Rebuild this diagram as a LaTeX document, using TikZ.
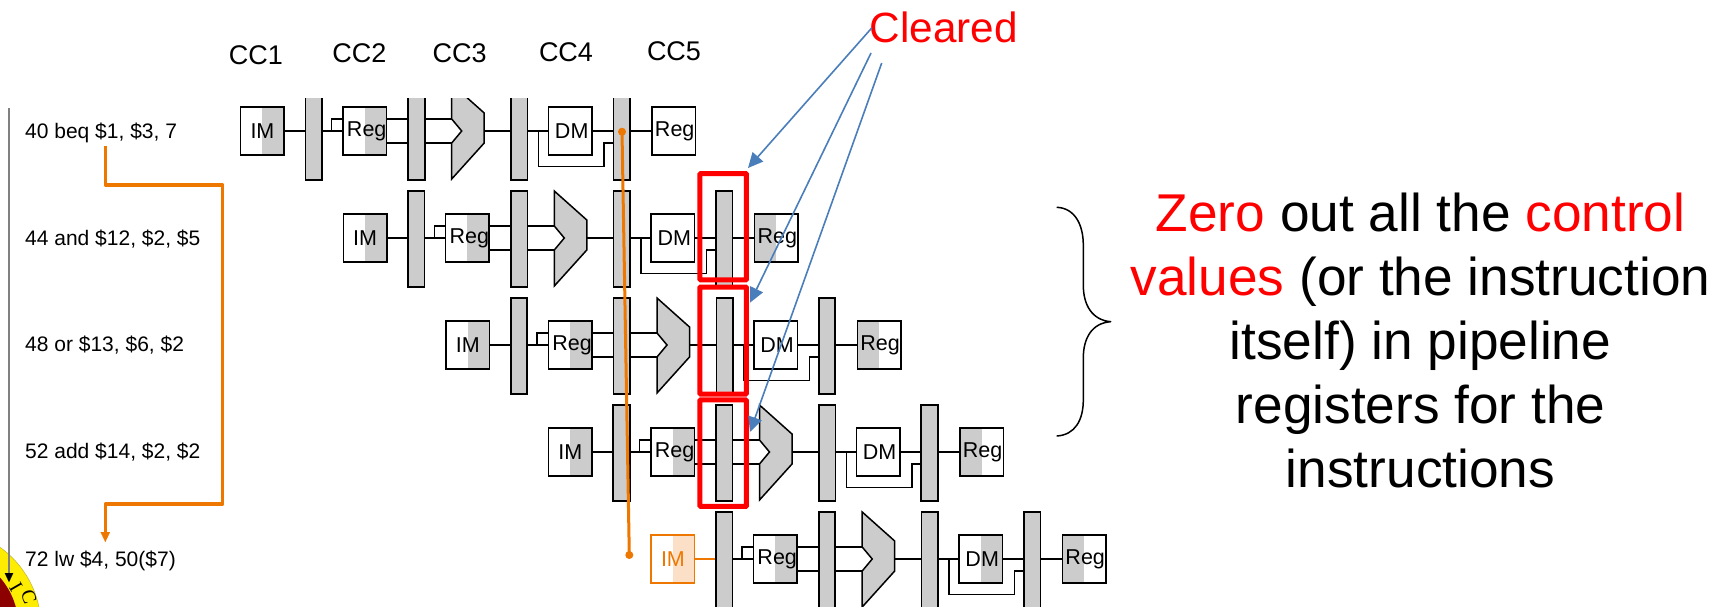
\documentclass[tikz,border=0pt]{standalone}
\usepackage{fontspec}
\setmainfont{Liberation Sans}
\newfontfamily\icfont{Liberation Serif}
\usetikzlibrary{arrows.meta,calc}
\definecolor{gshade}{HTML}{CCCCCC}
\definecolor{orng}{HTML}{EE7700}
\definecolor{orngl}{HTML}{FBDFC6}
\definecolor{arrowblue}{HTML}{4A7EBB}
\definecolor{cred}{HTML}{FF0000}
\tikzset{
  x=1pt,y=-1pt,
  wire/.style={black,line width=1.5pt},
  unitbox/.style={draw=black,line width=1.5pt,fill=white,minimum width=43.5pt,minimum height=48pt,inner sep=0pt,text=black,font=\fontsize{21.5}{24}\selectfont},
  halfright/.style={path picture={\fill[gshade] (path picture bounding box.north) rectangle (path picture bounding box.south east);}},
  halfleft/.style={path picture={\fill[gshade] (path picture bounding box.north west) rectangle (path picture bounding box.south);}},
  plainbox/.style={},
  imorange/.style={draw=orng,text=orng,path picture={\fill[orngl] (path picture bounding box.north) rectangle (path picture bounding box.south east);}},
  pipereg/.style={draw=black,line width=1.6pt,fill=gshade,minimum width=16.5pt,minimum height=96pt,inner sep=0pt},
  alushape/.style={draw=black,line width=1.5pt,fill=gshade,line join=miter},
  orangewire/.style={orng,line width=2.6pt},
  orangeroute/.style={orng,line width=3.2pt,line join=round},
  redbox/.style={draw=cred,line width=5pt,rounded corners=0.8pt,minimum width=46.5pt,inner sep=0pt},
  clearedarrow/.style={arrowblue,line width=1.6pt,-{Triangle[length=15pt,width=14pt]}},
  dotnode/.style={circle,fill=orng,inner sep=0pt,minimum size=8pt},
  instr/.style={anchor=base west,inner sep=0pt,font=\fontsize{21}{24}\selectfont},
  cclabel/.style={inner sep=0pt,font=\fontsize{27}{30}\selectfont},
}
% #1 prefix, #2 x0, #3 centre y, #4 IM style, #5 DM style, #6 last Reg style, #7 IM wire style
\newcommand\pipeRow[7]{
  \node[unitbox,halfright,#4] (#1im) at (#2+21.75,#3) {IM};
  \node[pipereg] (#1pa) at (#2+73,#3+1) {};
  \node[unitbox,halfright] (#1rd) at (#2+124,#3) {\hspace*{4pt}Reg};
  \node[pipereg] (#1pb) at (#2+175.8,#3+1) {};
  \coordinate (#1alu) at (#2+211,#3);
  \node[pipereg] (#1pc) at (#2+278.6,#3+1) {};
  \node[unitbox,#5] (#1dm) at (#2+329.5,#3) {\hspace*{3pt}DM};
  \node[pipereg] (#1pd) at (#2+381,#3+1) {};
  \node[unitbox,#6] (#1wb) at (#2+433,#3) {\hspace*{2pt}Reg};
  \draw[#7] (#1im.east) -- (#1im.east -| #1pa.west);
  \draw[wire] (#1rd.west -| #1pa.east) -- (#1rd.west);
  \draw[wire] ($(#1rd.west)+(-10.5,0)$) |- ($(#1rd.west)+(0,-12)$);
  \draw[wire] ($(#1rd.east)+(0,-12)$) -- ($(#1alu)+(0,-12)$);
  \draw[wire] ($(#1rd.east)+(0,12)$) -- ($(#1alu)+(0,12)$);
  \node[pipereg] at (#1pb) {};
  \draw[alushape] ([shift={(0,-47)}]#1alu) -- ([shift={(32.5,-18)}]#1alu) -- ([shift={(32.5,12)}]#1alu) -- ([shift={(0,48)}]#1alu) -- ([shift={(0,12)}]#1alu) -- ([shift={(10,0)}]#1alu) -- ([shift={(0,-12)}]#1alu) -- cycle;
  \draw[wire] ([shift={(32.5,0)}]#1alu) -- (#1alu -| #1pc.west);
  \draw[wire] (#1dm.west -| #1pc.east) -- (#1dm.west);
  \draw[wire] (#1dm.east) -- (#1dm.east -| #1pd.west);
  \draw[wire] (#1wb.west -| #1pd.east) -- (#1wb.west);
  \draw[wire] ($(#1dm.west)+(-9.2,0)$) -- ($(#1dm.west)+(-9.2,35.7)$) -- ($(#1dm.east)+(11.3,35.7)$) -- ($(#1dm.east)+(11.3,12)$) -- ($(#1dm.east)+(21.3,12)$);
  \node[pipereg] at (#1pd) {};
}
\begin{document}
\begin{tikzpicture}
\clip (0,0) rectangle (1724,606);
\fill[white] (0,0) rectangle (1724,606);

% badge in the corner
\coordinate (badge) at (-57,627);
\fill[yellow!95!orange,draw=yellow!70!black,line width=0.5pt] (badge) circle[radius=98];
\fill[red!55!black] (badge) circle[radius=75.5];
\node[inner sep=0pt,rotate=-60,font=\icfont\fontsize{20}{22}\selectfont] (badgeI) at (16,587) {I};
\node[inner sep=0pt,rotate=-72,font=\icfont\fontsize{20}{22}\selectfont] (badgeC) at (29,596.5) {C};

% time axis
\coordinate (axisA) at (9,108);
\coordinate (axisB) at (9,582);
\draw[gray,line width=1.3pt] (axisA) -- ($(axisB)+(0,-6)$);
\draw[-{Triangle[length=9pt,width=8.5pt]},black,line width=0.1pt] ($(axisB)+(0,-9)$) -- (axisB);

% clock cycle labels
\node[cclabel] (cc1) at (256,55) {CC1};
\node[cclabel] (cc2) at (359.5,53) {CC2};
\node[cclabel] (cc3) at (459.6,53) {CC3};
\node[cclabel] (cc4) at (566,52) {CC4};
\node[cclabel] (cc5) at (674,51) {CC5};

% instruction labels
\node[instr] (la) at (25,138) {40 beq \$1, \$3, 7};
\node[instr] (lb) at (25,245) {44 and \$12, \$2, \$5};
\node[instr] (lc) at (25,351.5) {48 or \$13, \$6, \$2};
\node[instr] (ld) at (25,458.5) {52 add \$14, \$2, \$2};
\node[instr] (le) at (25,566) {72 lw \$4, 50(\$7)};

% pipeline rows
\begin{scope}
  \clip (0,98) rectangle (1724,606);
  \pipeRow{a}{240.7}{131}{plainbox}{plainbox}{plainbox}{wire}
\end{scope}
\pipeRow{b}{343.3}{238}{plainbox}{plainbox}{halfleft}{wire}
\pipeRow{c}{446}{345}{plainbox}{plainbox}{halfleft}{wire}
\pipeRow{d}{548.5}{452}{plainbox}{plainbox}{halfleft}{wire}
\pipeRow{e}{651.2}{559}{imorange}{halfright}{halfleft}{orangewire}

% orange branch route
\coordinate (ra) at (105.3,146);
\coordinate (rb) at (105.3,185);
\coordinate (rc) at (222.7,185);
\coordinate (rd) at (222.7,504);
\coordinate (re) at (105.3,504);
\coordinate (rf) at (105.3,542);
\draw[orangeroute] (ra) -- (rb) -- (rc) -- (rd) -- (re) -- ($(rf)+(0,-8)$);
\draw[orng,line width=0.1pt,-{Triangle[length=10pt,width=9.5pt]}] ($(rf)+(0,-10)$) -- (rf);

% orange timeline
\node[dotnode] (dota) at (622,131.7) {};
\node[dotnode] (dotb) at (629.3,555) {};
\draw[orng,line width=3pt] (dota.center) -- (dotb.center);

% red boxes
\node[redbox,minimum height=106.3pt] (rba) at (723.2,226.8) {};
\node[redbox,minimum height=107pt] (rbb) at (723.2,340.5) {};
\node[redbox,minimum height=106.5pt] (rbc) at (723.2,453.2) {};

% Cleared
\node[inner sep=0pt,text=cred,font=\fontsize{42.3}{48}\selectfont,anchor=base] (cleared) at (944,42.3) {Cleared};
\coordinate (ca) at (871.7,28);
\coordinate (cb) at (871,53);
\coordinate (cc) at (881.7,63);
\coordinate (ta) at (748,168);
\coordinate (tb) at (750,302.7);
\coordinate (tc) at (750,432);
\draw[clearedarrow] (ca) -- (ta);
\draw[clearedarrow] (cb) -- (tb);
\draw[clearedarrow] (cc) -- (tc);

% brace
\coordinate (bt) at (1056.7,207.3);
\coordinate (bm) at (1110.7,321.7);
\coordinate (bb) at (1056.7,436);
\draw[black,line width=1.5pt,line join=round] (bt) .. controls (1075,208) and (1083.3,225) .. (1083.3,245)
  -- (1083.3,285) .. controls (1083.3,305) and (1092,320) .. (bm)
  .. controls (1092,323) and (1083.3,338) .. (1083.3,358)
  -- (1083.3,400) .. controls (1083.3,420) and (1075,435) .. (bb);

% explanation
\node[align=center,inner sep=0pt,font=\fontsize{53.2}{64}\selectfont] (expl) at (1420.5,340.5)
  {\textcolor{cred}{Zero} out all the \textcolor{cred}{control}\\
   \textcolor{cred}{values} (or the instruction\\
   itself) in pipeline\\
   registers for the\\
   instructions};
\end{tikzpicture}
\end{document}
